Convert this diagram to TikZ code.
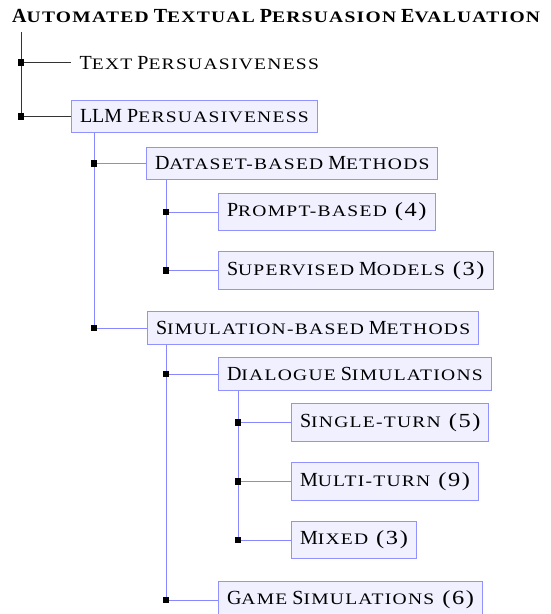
\documentclass[tikz,border=0pt]{standalone}
\usepackage{fontspec}
\setmainfont{Liberation Serif}
\newfontfamily\scf[FakeStretch=1.22, LetterSpace=8]{Liberation Serif}
\newcommand\lsc[1]{{\scf\fontsize{16pt}{18pt}\selectfont #1}}
\newcommand\pnum[1]{\hspace{3pt}{\scf(#1)}}
\definecolor{bdr}{RGB}{145,145,255}
\definecolor{bfill}{RGB}{240,240,255}
\definecolor{lnk}{RGB}{135,135,255}
\begin{document}
\begin{tikzpicture}[x=1pt,y=1pt,
  lbl/.style={anchor=west, inner xsep=8.5pt, inner ysep=9.6pt, font=\fontsize{20pt}{24pt}\selectfont},
  box/.style={lbl, draw=bdr, fill=bfill, line width=1pt},
  rootln/.style={draw=black!80, line width=1pt},
  bl/.style={draw=lnk, line width=1pt},
  sq/.style={rectangle, fill=black, inner sep=0pt, minimum size=6.5pt}
]
\useasboundingbox (0,0) rectangle (550,-614);

\node[anchor=base west, inner sep=0pt, font=\fontsize{20pt}{24pt}\selectfont\bfseries] (title) at (12,-22.7)
  {A\lsc{UTOMATED} T\lsc{EXTUAL} P\lsc{ERSUASION} E\lsc{VALUATION}};

\node[lbl] (text) at (71,-62.7) {T\lsc{EXT} P\lsc{ERSUASIVENESS}};
\node[box] (llm) at (71,-116.5) {LLM P\lsc{ERSUASIVENESS}};
\node[box] (data) at (146,-163.5) {D\lsc{ATASET-BASED} M\lsc{ETHODS}};
\node[box] (prompt) at (218,-212) {P\lsc{ROMPT-BASED} \pnum{4}};
\node[box] (sup) at (218,-270.5) {S\lsc{UPERVISED} M\lsc{ODELS} \pnum{3}};
\node[box] (sim) at (147,-328) {S\lsc{IMULATION-BASED} M\lsc{ETHODS}};
\node[box] (dial) at (218,-374) {D\lsc{IALOGUE} S\lsc{IMULATIONS}};
\node[box] (single) at (291,-422.5) {S\lsc{INGLE-TURN} \pnum{5}};
\node[box] (multi) at (291,-481.5) {M\lsc{ULTI-TURN} \pnum{9}};
\node[box] (mixed) at (291,-540) {M\lsc{IXED} \pnum{3}};
\node[box] (game) at (218,-600) {G\lsc{AME} S\lsc{IMULATIONS} \pnum{6}};

% root branch
\coordinate (r0) at (21,-32);
\draw[rootln] (r0) |- (llm.west);
\draw[rootln] (r0 |- text.west) -- (text.west);
\node[sq] at (r0 |- text.west) {};
\node[sq] at (r0 |- llm.west) {};

% LLM branch
\coordinate (v1) at ([xshift=23pt]llm.south west);
\draw[bl] (v1) |- (sim.west);
\draw[bl] (v1 |- data.west) -- (data.west);
\node[sq] at (v1 |- data.west) {};
\node[sq] at (v1 |- sim.west) {};

% Dataset branch
\coordinate (v2) at ([xshift=20pt]data.south west);
\draw[bl] (v2) |- (sup.west);
\draw[bl] (v2 |- prompt.west) -- (prompt.west);
\node[sq] at (v2 |- prompt.west) {};
\node[sq] at (v2 |- sup.west) {};

% Simulation branch
\coordinate (v3) at ([xshift=19pt]sim.south west);
\draw[bl] (v3) |- (game.west);
\draw[bl] (v3 |- dial.west) -- (dial.west);
\node[sq] at (v3 |- dial.west) {};
\node[sq] at (v3 |- game.west) {};

% Dialogue branch
\coordinate (v4) at ([xshift=20pt]dial.south west);
\draw[bl] (v4) |- (mixed.west);
\draw[bl] (v4 |- single.west) -- (single.west);
\draw[bl] (v4 |- multi.west) -- (multi.west);
\node[sq] at (v4 |- single.west) {};
\node[sq] at (v4 |- multi.west) {};
\node[sq] at (v4 |- mixed.west) {};
\end{tikzpicture}
\end{document}
